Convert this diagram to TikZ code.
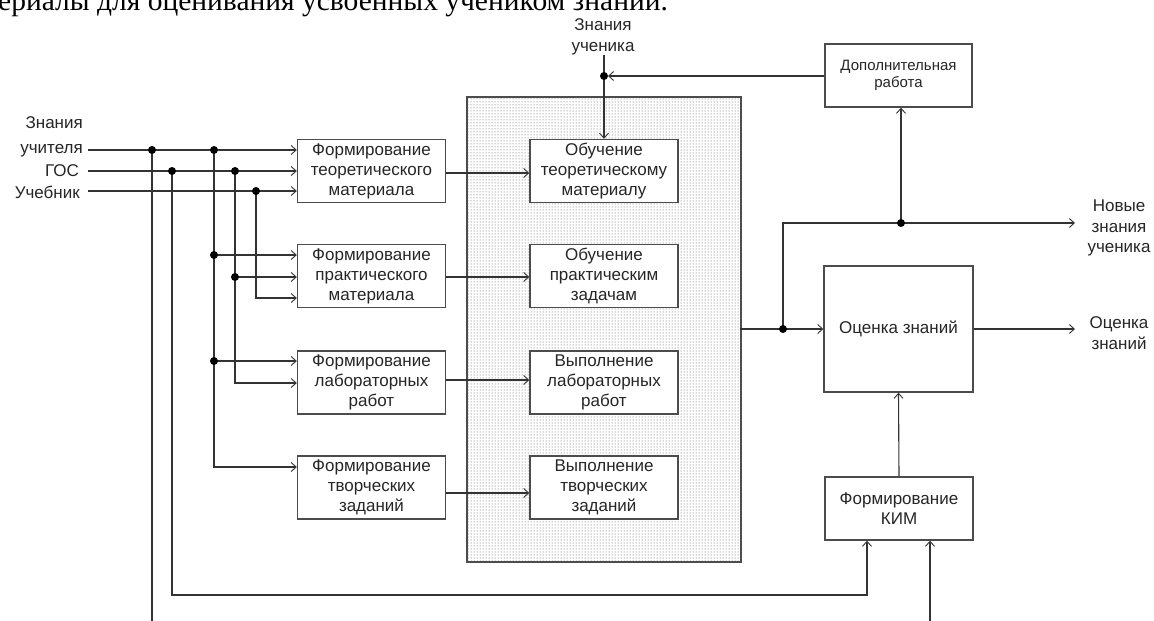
\documentclass[tikz,border=0pt]{standalone}
\usepackage{fontspec}
\setmainfont{Liberation Sans}
\newfontfamily\pageserif{Liberation Serif}
\usetikzlibrary{arrows.meta,patterns}
\begin{document}
\begin{tikzpicture}[x=1pt,y=-1pt,
  conn/.style={draw=black!80, line width=1.1pt},
  arr/.style={conn, -{Straight Barb[length=5pt,width=9pt,line width=0.9pt]}},
  box/.style={draw=black!70, line width=1.4pt, fill=white, minimum width=148pt, minimum height=63pt, align=center, inner sep=0pt, font=\fontsize{17}{20}\selectfont, text=black!85},
  lbl/.style={inner sep=0pt, text=black!85},
  dot/.style={circle, fill=black, inner sep=0pt, minimum size=8pt},
]
\fill[white] (0,0) rectangle (1154,621);
\useasboundingbox (0,0) rectangle (1154,621);

% page text fragment
\node[anchor=base west, inner sep=0pt, font=\pageserif\fontsize{29.5}{29.5}\selectfont] (page) at (-2,10) {ериалы для оценивания усвоенных учеником знаний.};

% dotted area
\node[draw=black!70, line width=1.4pt, fill=white, minimum width=274pt, minimum height=465pt, inner sep=0pt] (Dbg) at (604,329.5) {};
\node[pattern=dots, pattern color=black!65, minimum width=272pt, minimum height=463pt, inner sep=0pt] (D) at (604,329.5) {};

% left boxes
\node[box] (F1) at (371.5,171) {Формирование\\теоретического\\материала};
\node[box] (F2) at (371.5,276) {Формирование\\практического\\материала};
\node[box] (F3) at (371.5,382.5) {Формирование\\лабораторных\\работ};
\node[box] (F4) at (371.5,487.5) {Формирование\\творческих\\заданий};

% middle boxes
\node[box] (M1) at (604,171) {Обучение\\теоретическому\\материалу};
\node[box] (M2) at (604,276) {Обучение\\практическим\\задачам};
\node[box] (M3) at (604,382.5) {Выполнение\\лабораторных\\работ};
\node[box] (M4) at (604,487.5) {Выполнение\\творческих\\заданий};

% right boxes
\node[box, minimum width=147pt, font=\fontsize{15}{17.5}\selectfont] (Dop) at (898.5,75.5) {Дополнительная\\работа};
\node[box, minimum width=149pt, minimum height=126pt] (OC) at (898.5,329) {Оценка знаний};
\node[box, minimum width=148pt] (KIM) at (899,508.5) {Формирование\\КИМ};

% labels
\node[lbl, anchor=east, align=right, font=\fontsize{17}{25}\selectfont] (LT) at (83,137) {Знания\\учителя};
\node[lbl, anchor=east, font=\fontsize{17}{20}\selectfont] (LG) at (79,171) {ГОС};
\node[lbl, anchor=east, font=\fontsize{17}{20}\selectfont] (LU) at (80,192) {Учебник};
\node[lbl, align=center, font=\fontsize{17}{21}\selectfont] (ZU) at (603,37) {Знания\\ученика};
\node[lbl, align=center, font=\fontsize{17}{20.5}\selectfont] (NZ) at (1119,228) {Новые\\знания\\ученика};
\node[lbl, align=center, font=\fontsize{17}{21}\selectfont] (OZ) at (1119,333) {Оценка\\знаний};

% coordinates
\coordinate (inT) at (88,150);
\coordinate (inG) at (88,171);
\coordinate (inU) at (88,191);
\coordinate (j1) at (152,150);
\coordinate (j2) at (172,171);
\coordinate (j3) at (214,150);
\coordinate (j4) at (235,171);
\coordinate (j5) at (256,191);
\coordinate (j6) at (214,255);
\coordinate (j7) at (235,277);
\coordinate (j8) at (214,361);
\coordinate (b1) at (152,630);
\coordinate (k1) at (172,595);
\coordinate (k2) at (867,595);
\coordinate (k3) at (930,630);
\coordinate (c3) at (214,467);
\coordinate (c4) at (235,383);
\coordinate (c5) at (256,298);
\coordinate (zu) at (604,55);
\coordinate (jz) at (604,76);
\coordinate (jo) at (783,329);
\coordinate (co) at (783,223);
\coordinate (jn) at (901,223);
\coordinate (NZin) at (1075,223);
\coordinate (OZin) at (1075,329);

% inputs to F1
\draw[arr] (inT) -- (F1.west |- inT);
\draw[arr] (inG) -- (F1.west |- inG);
\draw[arr] (inU) -- (F1.west |- inU);
% verticals
\draw[conn] (j1) -- (b1);
\draw[arr] (j2) -- (k1) -- (k2) -- (k2 |- KIM.south);
\draw[arr] (j3) -- (c3) -- (F4.west |- c3);
\draw[arr] (j6) -- (F2.west |- j6);
\draw[arr] (j8) -- (F3.west |- j8);
\draw[arr] (j4) -- (c4) -- (F3.west |- c4);
\draw[arr] (j7) -- (F2.west |- j7);
\draw[arr] (j5) -- (c5) -- (F2.west |- c5);
% F -> M
\draw[arr] (F1.east |- 0,173) -- (M1.west |- 0,173);
\draw[arr] (F2.east |- 0,277) -- (M2.west |- 0,277);
\draw[arr] (F3.east |- 0,380) -- (M3.west |- 0,380);
\draw[arr] (F4.east |- 0,493) -- (M4.west |- 0,493);
% top
\draw[arr] (zu) -- (M1.north);
\draw[arr, shorten >=4pt] (Dop.west |- jz) -- (jz);
% right side
\draw[arr] (D.east |- jo) -- (OC.west |- jo);
\draw[arr] (jo) -- (co) -- (NZin);
\draw[arr] (jn) -- (jn |- Dop.south);
\draw[arr] (OC.east) -- (OZin);
\draw[arr] (KIM.north) -- (OC.south);
\draw[arr] (k3) -- (k3 |- KIM.south);

% dots
\node[dot] (d1) at (j1) {};
\node[dot] (d2) at (j2) {};
\node[dot] (d3) at (j3) {};
\node[dot] (d4) at (j4) {};
\node[dot] (d5) at (j5) {};
\node[dot] (d6) at (j6) {};
\node[dot] (d7) at (j7) {};
\node[dot] (d8) at (j8) {};
\node[dot] (dz) at (jz) {};
\node[dot] (do) at (jo) {};
\node[dot] (dn) at (jn) {};
\end{tikzpicture}
\end{document}
